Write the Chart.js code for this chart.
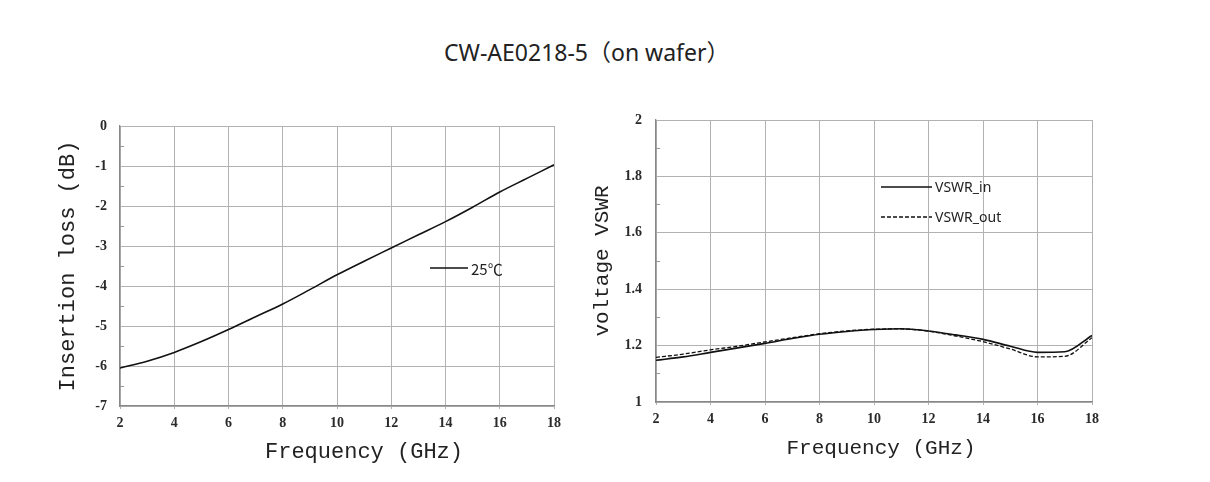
<!DOCTYPE html>
<html>
<head>
<meta charset="utf-8">
<script src="https://cdn.jsdelivr.net/npm/chart.js@4/dist/chart.umd.min.js"></script>
<style>
  body { margin: 0; background: #fff; width: 1210px; height: 482px; position: relative; overflow: hidden; }
  #title { position: absolute; left: 444px; top: 34px; font: 23px "Noto Sans", "Noto Sans CJK SC", sans-serif; color: #222; white-space: nowrap; }
  #leftBox { position: absolute; left: 0; top: 0; width: 600px; height: 482px; }
  #rightBox { position: absolute; left: 580px; top: 0; width: 630px; height: 482px; }
</style>
</head>
<body>
<div id="title">CW-AE0218-5（on wafer）</div>
<div id="leftBox"><canvas id="lossChart"></canvas></div>
<div id="rightBox"><canvas id="vswrChart"></canvas></div>
<script>
// frequency points (GHz)
const freq = [2, 3, 4, 5, 6, 7, 8, 9, 10, 11, 12, 13, 14, 15, 16, 17, 18];

// insertion loss at 25 C (dB)
const lossDb = [-6.05, -5.88, -5.66, -5.39, -5.09, -4.77, -4.45, -4.09, -3.72,
                -3.38, -3.05, -2.72, -2.39, -2.03, -1.65, -1.31, -0.97];

// voltage standing wave ratio
const vswrIn = [1.148, 1.160, 1.176, 1.192, 1.208, 1.225, 1.240, 1.250, 1.257,
                1.260, 1.252, 1.238, 1.222, 1.198, 1.176, 1.178, 1.236];
const vswrOut = [1.158, 1.170, 1.185, 1.198, 1.213, 1.228, 1.242, 1.252, 1.258,
                 1.259, 1.251, 1.234, 1.214, 1.188, 1.160, 1.162, 1.228];

// tick labels
const freqTicks = [2, 4, 6, 8, 10, 12, 14, 16, 18];
const lossTicks = [0, -1, -2, -3, -4, -5, -6, -7];
const vswrTicks = ['1', '1.2', '1.4', '1.6', '1.8', '2'];

const GRID = '#b2b2b2';
const AXIS = '#888';
const monoFont = '"Liberation Mono", "DejaVu Sans Mono", monospace';
const serifFont = '"Liberation Serif", "DejaVu Serif", serif';

function points(ys) {
  return freq.map((f, i) => ({ x: f, y: ys[i] }));
}

// legend drawn inside the plot, at an offset from the chart area corner
const insideLegend = {
  id: 'insideLegend',
  afterDatasetsDraw(chart, args, opts) {
    const ctx = chart.ctx;
    const area = chart.chartArea;
    ctx.save();
    chart.data.datasets.forEach((ds, i) => {
      let x = area.left + opts.dx;
      let y = area.top + opts.dy + i * opts.rowGap;
      ctx.strokeStyle = ds.borderColor;
      ctx.lineWidth = ds.borderWidth;
      ctx.setLineDash(ds.borderDash || []);
      ctx.beginPath();
      ctx.moveTo(x, y);
      ctx.lineTo(x + opts.lineLength, y);
      ctx.stroke();
      ctx.setLineDash([]);
      ctx.fillStyle = '#222';
      ctx.font = opts.font;
      ctx.textBaseline = 'middle';
      ctx.fillText(ds.label, x + opts.lineLength + 3, y + 1);
    });
    ctx.restore();
  }
};

// x axis caption, centred at an offset from the middle of the chart area
const xCaption = {
  id: 'xCaption',
  afterDraw(chart, args, opts) {
    const ctx = chart.ctx;
    const area = chart.chartArea;
    ctx.save();
    ctx.fillStyle = '#222';
    ctx.font = opts.font;
    ctx.textAlign = 'center';
    ctx.textBaseline = 'middle';
    ctx.fillText(opts.text, (area.left + area.right) / 2 + opts.dx, area.bottom + opts.dy);
    ctx.restore();
  }
};

function xScale(height) {
  return {
    type: 'linear',
    min: 2,
    max: 18,
    afterBuildTicks: (s) => { s.ticks = freqTicks.map(v => ({ value: v })); },
    afterFit: (s) => { s.height = height; },
    grid: { color: GRID, tickColor: GRID, tickLength: 3 },
    border: { color: AXIS, width: 1.3 },
    ticks: {
      padding: 6,
      color: '#2a2a2a',
      font: { family: serifFont, size: 14, weight: 'bold' },
      maxRotation: 0,
      callback: (v) => String(v)
    }
  };
}

new Chart(document.getElementById('lossChart'), {
  type: 'line',
  data: {
    datasets: [{
      label: '25℃',
      data: points(lossDb),
      borderColor: '#111',
      borderWidth: 1.6,
      pointRadius: 0,
      cubicInterpolationMode: 'monotone'
    }]
  },
  options: {
    responsive: true,
    maintainAspectRatio: false,
    animation: false,
    layout: { padding: { left: 0, right: 46, top: 126, bottom: 0 } },
    plugins: {
      legend: { display: false },
      tooltip: { enabled: false },
      insideLegend: { dx: 310, dy: 142, rowGap: 0, lineLength: 38, font: '15px "Noto Sans CJK SC", sans-serif' },
      xCaption: { text: 'Frequency (GHz)', dx: 27, dy: 46, font: '22px ' + monoFont }
    },
    scales: {
      x: xScale(76),
      y: {
        type: 'linear',
        min: -7,
        max: 0,
        afterFit: (s) => { s.width = 120; },
        grid: {
          color: (c) => lossTicks.includes(c.tick.value) ? GRID : 'rgba(0,0,0,0)',
          tickColor: (c) => lossTicks.includes(c.tick.value) ? GRID : '#999',
          tickLength: -4
        },
        border: { color: AXIS, width: 1.3 },
        ticks: {
          stepSize: 0.5,
          padding: 17,
          color: '#2a2a2a',
          font: { family: serifFont, size: 14, weight: 'bold' },
          callback: (v) => lossTicks.includes(v) ? String(v) : ''
        },
        title: {
          display: true,
          text: 'Insertion loss (dB)',
          color: '#222',
          font: { family: monoFont, size: 22 },
          padding: { top: 55, bottom: 0 }
        }
      }
    }
  },
  plugins: [insideLegend, xCaption]
});

function vswrLabel(v) {
  const s = String(Math.round(v * 10) / 10);
  return vswrTicks.includes(s) ? s : '';
}

new Chart(document.getElementById('vswrChart'), {
  type: 'line',
  data: {
    datasets: [{
      label: 'VSWR_in',
      data: points(vswrIn),
      borderColor: '#111',
      borderWidth: 1.6,
      pointRadius: 0,
      cubicInterpolationMode: 'monotone'
    }, {
      label: 'VSWR_out',
      data: points(vswrOut),
      borderColor: '#111',
      borderWidth: 1.3,
      borderDash: [4, 2],
      pointRadius: 0,
      cubicInterpolationMode: 'monotone'
    }]
  },
  options: {
    responsive: true,
    maintainAspectRatio: false,
    animation: false,
    layout: { padding: { left: 0, right: 118, top: 120, bottom: 0 } },
    plugins: {
      legend: { display: false },
      tooltip: { enabled: false },
      insideLegend: { dx: 225, dy: 67, rowGap: 30, lineLength: 51, font: '14px "Noto Sans", "Open Sans", sans-serif' },
      xCaption: { text: 'Frequency (GHz)', dx: 7, dy: 46, font: '21px ' + monoFont }
    },
    scales: {
      x: xScale(80),
      y: {
        type: 'linear',
        min: 1,
        max: 2,
        afterFit: (s) => { s.width = 76; },
        grid: {
          color: (c) => vswrLabel(c.tick.value) ? GRID : 'rgba(0,0,0,0)',
          tickColor: (c) => vswrLabel(c.tick.value) ? GRID : '#999',
          tickLength: -4
        },
        border: { color: AXIS, width: 1.3 },
        ticks: {
          stepSize: 0.1,
          padding: 18,
          color: '#2a2a2a',
          font: { family: serifFont, size: 14, weight: 'bold' },
          callback: (v) => vswrLabel(v)
        },
        title: {
          display: true,
          text: 'voltage VSWR',
          color: '#222',
          font: { family: monoFont, size: 21 },
          padding: { top: 10, bottom: 0 }
        }
      }
    }
  },
  plugins: [insideLegend, xCaption]
});
</script>
</body>
</html>
